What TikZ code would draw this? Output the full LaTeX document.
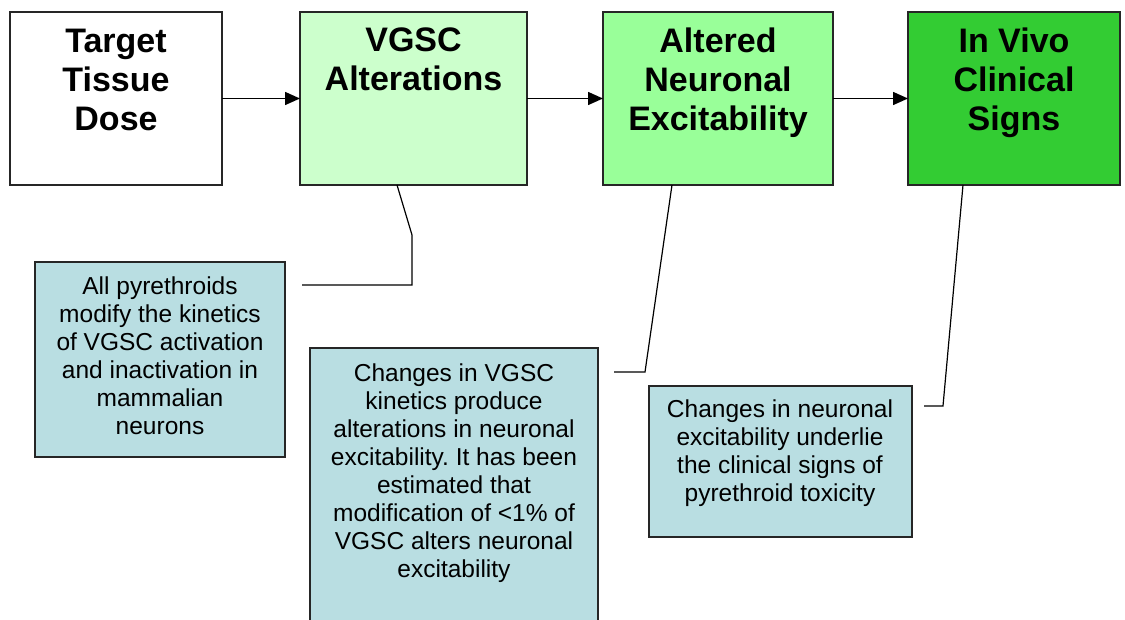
\documentclass[tikz,border=0pt]{standalone}
\usepackage{fontspec}
\setmainfont{Liberation Sans}
\usetikzlibrary{arrows.meta}
\definecolor{gA}{HTML}{CCFFCC}
\definecolor{gB}{HTML}{99FF99}
\definecolor{gC}{HTML}{33CC33}
\definecolor{noteblue}{RGB}{185,222,226}
\begin{document}
\begin{tikzpicture}[x=1pt,y=-1pt,
  box/.style={draw=black!85, line width=1.3pt, anchor=north west, inner sep=0pt, outer sep=0pt},
  notebox/.style={box, fill=noteblue},
  title/.style={font=\fontsize{34}{39}\selectfont\bfseries, align=center, inner sep=0pt},
  note/.style={font=\fontsize{24.5}{28}\selectfont, align=center, inner sep=0pt},
  flow/.style={-{Triangle[length=15pt,width=13pt]}, line width=1.5pt},
  lead/.style={line width=1.2pt}]
\useasboundingbox (0,0) rectangle (1125,620);
\clip (0,0) rectangle (1125,620);
% main boxes
\node[box, fill=white, minimum width=212pt, minimum height=173pt] (b1) at (10,12) {};
\node[box, fill=gA, minimum width=227pt, minimum height=173pt] (b2) at (300,12) {};
\node[box, fill=gB, minimum width=230pt, minimum height=173pt] (b3) at (603,12) {};
\node[box, fill=gC, minimum width=212pt, minimum height=173pt] (b4) at (908,12) {};
\node[title] (t1) at (116,79.5) {Target\\Tissue\\Dose};
\node[title] (t2) at (413.5,59.5) {VGSC\\Alterations};
\node[title] (t3) at (718,83) {Altered\\Neuronal\\Excitability};
\node[title] (t4) at (1014,83) {In Vivo\\Clinical\\Signs};
% arrows
\draw[flow] (b1.east) -- (b2.west);
\draw[flow] (b2.east) -- (b3.west);
\draw[flow] (b3.east) -- (b4.west);
% callouts
\node[notebox, minimum width=250pt, minimum height=195pt] (nA) at (35,262) {};
\node[notebox, minimum width=288pt, minimum height=285pt] (nB) at (310,348) {};
\node[notebox, minimum width=263pt, minimum height=151pt] (nC) at (649,386) {};
\node[note] (tA) at (160,356) {All pyrethroids\\modify the kinetics\\of VGSC activation\\and inactivation in\\mammalian\\neurons};
\node[note] (tB) at (454,473) {Changes in VGSC\\kinetics produce\\alterations in neuronal\\excitability.\ It has been\\estimated that\\modification of <1\% of\\VGSC alters neuronal\\excitability};
\node[note] (tC) at (780,453) {Changes in neuronal\\excitability underlie\\the clinical signs of\\pyrethroid toxicity};
% leader lines
\coordinate (aA) at (302,285);
\coordinate (aB) at (614,372);
\coordinate (aC) at (924,406);
\draw[lead] (aA) -- ++(110,0) -- ++(0,-50) -- ([xshift=97pt]b2.south west);
\draw[lead] (aB) -- ++(31,0) -- ([xshift=69pt]b3.south west);
\draw[lead] (aC) -- ++(19,0) -- ([xshift=55pt]b4.south west);
\end{tikzpicture}
\end{document}
